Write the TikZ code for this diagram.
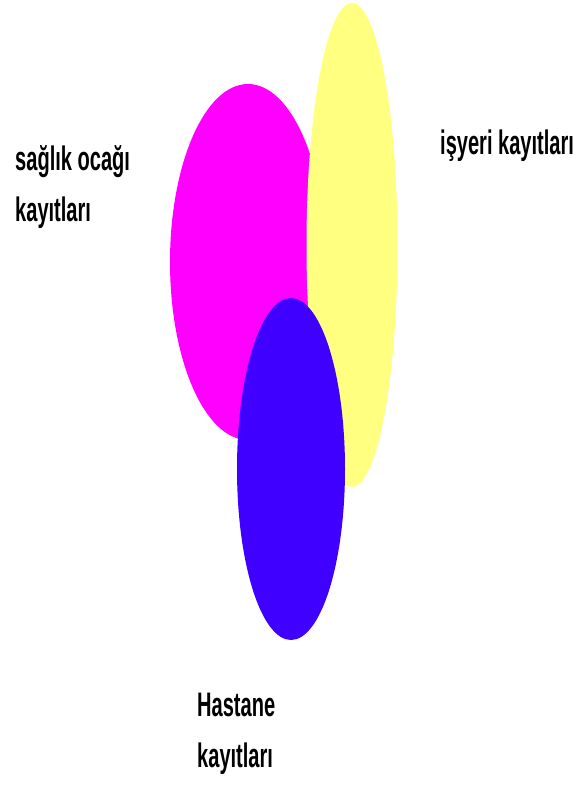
\documentclass[tikz,border=0pt]{standalone}
\usepackage{fontspec}
\usepackage{xcolor}
\usetikzlibrary{shapes.geometric}
\newfontfamily\labelfont[FakeStretch=0.59]{Liberation Sans}
\definecolor{saglikcol}{HTML}{FF00FF}
\definecolor{isyericol}{HTML}{FFFF80}
\definecolor{hastanecol}{HTML}{4000FF}
\tikzset{
  setblob/.style={ellipse, draw=none, inner sep=0pt},
  setlabel/.style={anchor=north west, inner sep=0pt, align=left,
    font=\labelfont\bfseries\fontsize{34}{51}\selectfont}
}

\begin{document}
\begin{tikzpicture}[x=1pt, y=-1pt]
  \useasboundingbox (0,0) rectangle (583,785);
  \node[setblob, fill=saglikcol, minimum width=156pt, minimum height=356pt] (saglik) at (248,262) {};
  \node[setblob, fill=isyericol, minimum width=91pt, minimum height=484pt] (isyeri) at (352,245) {};
  \node[setblob, fill=hastanecol, minimum width=108pt, minimum height=342pt] (hastane) at (291,469) {};
  \node[setlabel] (saglikText) at (15,145) {sağlık ocağı\\kayıtları};
  \node[setlabel] (isyeriText) at (440,130) {işyeri kayıtları};
  \node[setlabel] (hastaneText) at (197,693) {Hastane\\kayıtları};
\end{tikzpicture}
\end{document}
